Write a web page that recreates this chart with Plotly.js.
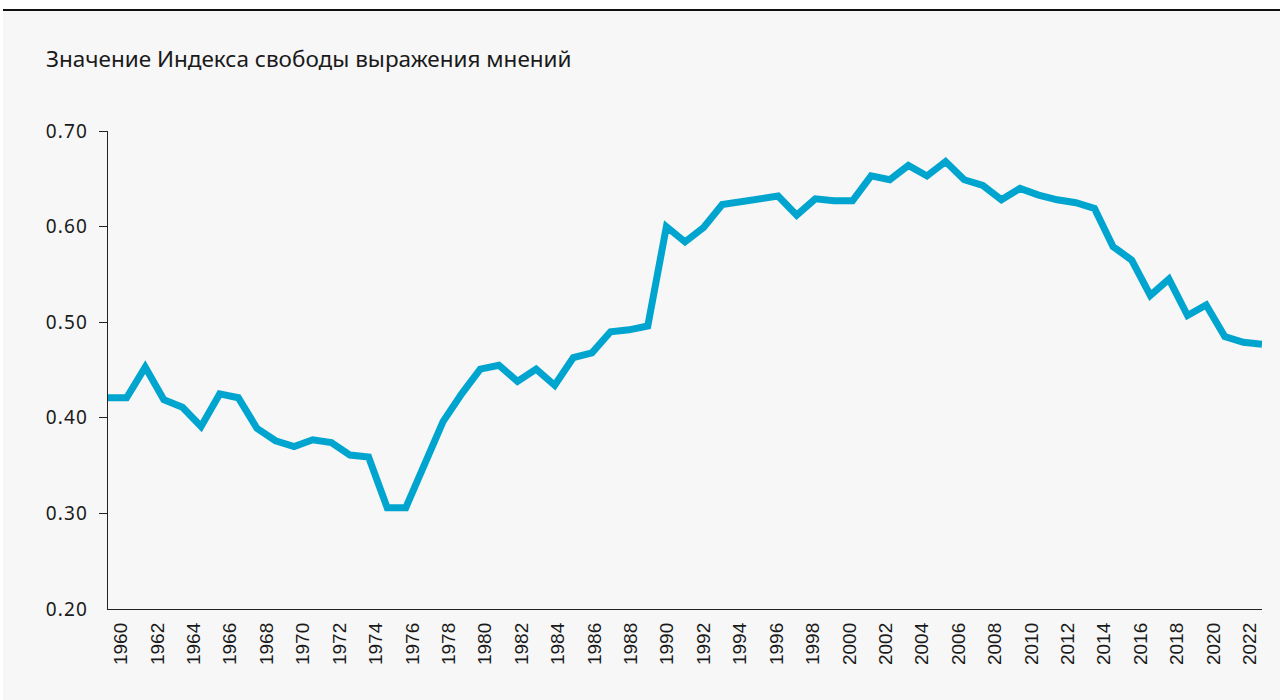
<!DOCTYPE html>
<html>
<head>
<meta charset="utf-8">
<script src="https://cdn.plot.ly/plotly-3.0.1.min.js"></script>
<style>
  html, body { margin: 0; padding: 0; background: #ffffff; width: 1280px; height: 700px; overflow: hidden; }
  #wrap { position: absolute; left: 3px; top: 9px; width: 1277px; height: 689px; border-top: 2px solid #111; background: #f7f7f7; }
  #chart { width: 1277px; height: 689px; }
  .ytick text { letter-spacing: 1.2px; }
</style>
</head>
<body>
<div id="wrap"><div id="chart"></div></div>
<script>
const years = [1960,1961,1962,1963,1964,1965,1966,1967,1968,1969,
               1970,1971,1972,1973,1974,1975,1976,1977,1978,1979,
               1980,1981,1982,1983,1984,1985,1986,1987,1988,1989,
               1990,1991,1992,1993,1994,1995,1996,1997,1998,1999,
               2000,2001,2002,2003,2004,2005,2006,2007,2008,2009,
               2010,2011,2012,2013,2014,2015,2016,2017,2018,2019,
               2020,2021,2022];
const indexValues = [0.421,0.421,0.453,0.419,0.411,0.391,0.425,0.421,0.389,0.376,
                     0.370,0.377,0.374,0.361,0.359,0.306,0.306,0.351,0.396,0.425,
                     0.451,0.455,0.438,0.451,0.434,0.463,0.468,0.490,0.492,0.496,
                     0.600,0.584,0.599,0.623,0.626,0.628,0.632,0.612,0.629,0.627,
                     0.627,0.653,0.649,0.664,0.653,0.668,0.649,0.643,0.628,0.640,
                     0.633,0.628,0.625,0.619,0.579,0.565,0.528,0.545,0.507,0.518,
                     0.485,0.479,0.477];
const xTickYears = [1960,1962,1964,1966,1968,1970,1972,1974,1976,1978,1980,1982,1984,1986,1988,
                    1990,1992,1994,1996,1998,2000,2002,2004,2006,2008,2010,2012,2014,2016,2018,2020,2022];
const yTickVals = [0.2,0.3,0.4,0.5,0.6,0.7];
const yTickText = ['0.20','0.30','0.40','0.50','0.60','0.70'];
const yTickMarkVals = [0.3,0.4,0.5,0.6,0.7];
const chartTitle = 'Значение Индекса свободы выражения мнений';

const trace = {
  x: years, y: indexValues, type: 'scatter', mode: 'lines',
  line: { color: '#00a5cf', width: 7, shape: 'linear' },
  xaxis: 'x', yaxis: 'y', hoverinfo: 'x+y'
};
// invisible helper traces so the overlay axes (label-only x axis, tick-only y axis) get drawn
const xLabelHelper = {
  x: years, y: indexValues, type: 'scatter', mode: 'lines',
  line: { color: 'rgba(0,0,0,0)', width: 0 }, opacity: 0,
  xaxis: 'x2', yaxis: 'y', hoverinfo: 'skip'
};
const yTickHelper = {
  x: years, y: indexValues, type: 'scatter', mode: 'lines',
  line: { color: 'rgba(0,0,0,0)', width: 0 }, opacity: 0,
  xaxis: 'x', yaxis: 'y2', hoverinfo: 'skip'
};

const layout = {
  width: 1277, height: 689,
  margin: { l: 105, r: 18, t: 120, b: 91, pad: 0 },
  paper_bgcolor: '#f7f7f7', plot_bgcolor: '#f7f7f7',
  showlegend: false,
  title: {
    text: chartTitle,
    font: { family: 'Noto Sans, sans-serif', size: 22.5, color: '#1a1a1a' },
    xref: 'container', x: 43/1277, xanchor: 'left',
    yref: 'container', y: 1 - 48/689, yanchor: 'middle'
  },
  xaxis: {
    range: [1960, 2022], showgrid: false, zeroline: false,
    showline: true, linecolor: '#222', linewidth: 1,
    ticks: '', showticklabels: false, fixedrange: true
  },
  xaxis2: {
    overlaying: 'x', anchor: 'y', side: 'bottom',
    range: [1959.286, 2022.659], showgrid: false, zeroline: false, showline: false,
    tickmode: 'array', tickvals: xTickYears, ticktext: xTickYears.map(String),
    tickangle: -90, ticks: '', ticklabelstandoff: 9,
    tickfont: { family: 'Liberation Sans, Arial, sans-serif', size: 19, color: '#1a1a1a' }
  },
  yaxis: {
    range: [0.2, 0.7], showgrid: false, zeroline: false,
    showline: true, linecolor: '#222', linewidth: 1,
    tickmode: 'array', tickvals: yTickVals, ticktext: yTickText,
    ticks: '', ticklabelstandoff: 15,
    tickfont: { family: 'Noto Sans, sans-serif', size: 19, color: '#1a1a1a' },
    fixedrange: true
  },
  yaxis2: {
    overlaying: 'y', anchor: 'x', side: 'left',
    range: [0.2, 0.7], showgrid: false, zeroline: false, showline: false,
    tickmode: 'array', tickvals: yTickMarkVals,
    ticks: 'outside', ticklen: 8, tickwidth: 1, tickcolor: '#222',
    showticklabels: false
  }
};

Plotly.newPlot('chart', [xLabelHelper, yTickHelper, trace], layout, { displayModeBar: false, staticPlot: true });
</script>
</body>
</html>
